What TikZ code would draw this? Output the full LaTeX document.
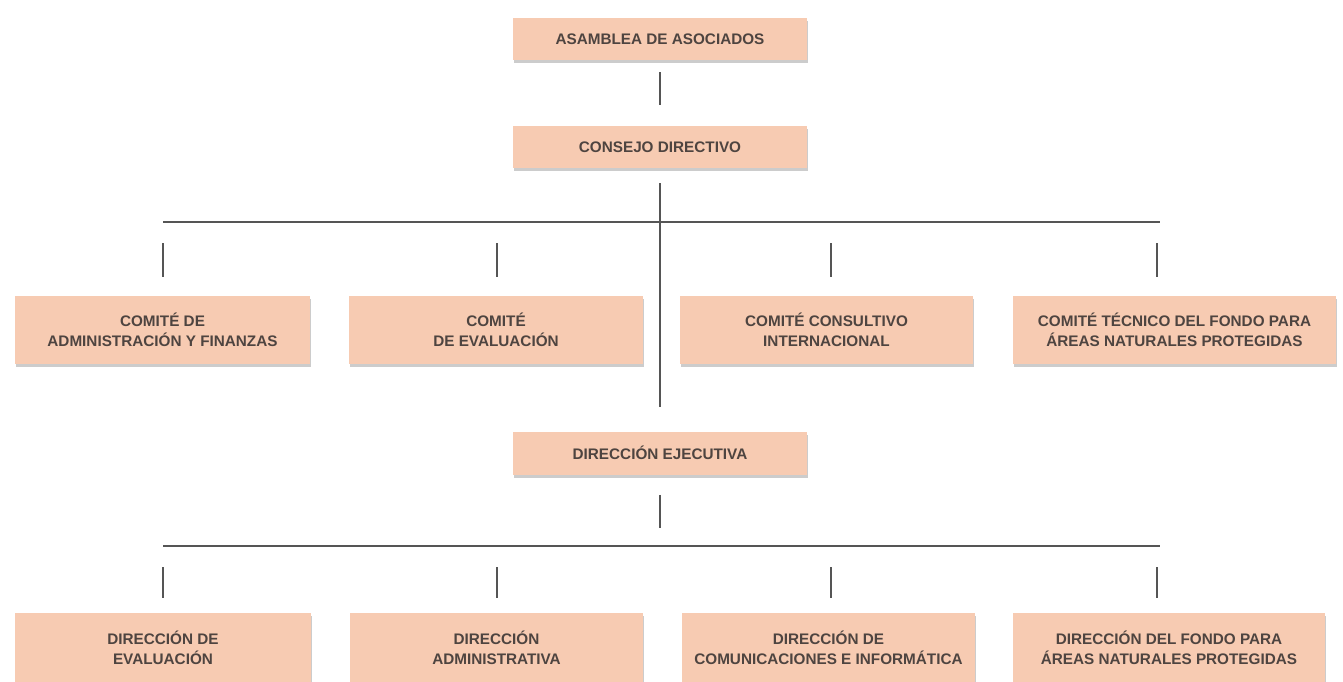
\documentclass[tikz,border=0pt]{standalone}
\usepackage{fontspec}
\setmainfont{Liberation Sans}
\usetikzlibrary{calc,shadows}

\definecolor{peach}{RGB}{247,203,178}
\definecolor{inkgray}{RGB}{78,68,64}
\definecolor{linegray}{RGB}{85,85,85}

\tikzset{
  unitbox/.style={rectangle, fill=peach, inner sep=0pt, align=center, text=inkgray,
    font=\bfseries\fontsize{8.7}{11.4}\selectfont,
    drop shadow={shadow xshift=0.8pt, shadow yshift=-1.8pt, opacity=0.4}},
  link/.style={draw=linegray, line width=0.8pt}
}

\begin{document}
\begin{tikzpicture}[x=0.02cm, y=-0.02cm]
  \clip (0, 0) rectangle (1343, 681);
  \fill[white] (0, 0) rectangle (1343, 681);

  % top of the chart
  \node[unitbox, minimum width=5.88cm, minimum height=0.84cm] (asamblea) at (660, 39) {ASAMBLEA DE ASOCIADOS};
  \node[unitbox, minimum width=5.88cm, minimum height=0.84cm] (consejo) at (660, 147) {CONSEJO DIRECTIVO};
  \node[unitbox, minimum width=5.88cm, minimum height=0.86cm] (ejecutiva) at (660, 453) {DIRECCIÓN EJECUTIVA};

  % comites
  \node[unitbox, minimum width=5.9cm, minimum height=1.36cm] (cadmin) at (162.5, 330) {COMITÉ DE\\ADMINISTRACIÓN Y FINANZAS};
  \node[unitbox, minimum width=5.88cm, minimum height=1.36cm] (ceval) at (496, 330) {COMITÉ\\DE EVALUACIÓN};
  \node[unitbox, minimum width=5.86cm, minimum height=1.36cm] (cconsult) at (826.5, 330) {COMITÉ CONSULTIVO\\INTERNACIONAL};
  \node[unitbox, minimum width=6.46cm, minimum height=1.36cm] (ctecnico) at (1174.5, 330) {COMITÉ TÉCNICO DEL FONDO PARA\\ÁREAS NATURALES PROTEGIDAS};

  % direcciones
  \node[unitbox, minimum width=5.92cm, minimum height=1.4cm] (deval) at (163, 648) {DIRECCIÓN DE\\EVALUACIÓN};
  \node[unitbox, minimum width=5.86cm, minimum height=1.4cm] (dadmin) at (496.5, 648) {DIRECCIÓN\\ADMINISTRATIVA};
  \node[unitbox, minimum width=5.86cm, minimum height=1.4cm] (dcom) at (828.5, 648) {DIRECCIÓN DE\\COMUNICACIONES E INFORMÁTICA};
  \node[unitbox, minimum width=6.24cm, minimum height=1.4cm] (dfondo) at (1169, 648) {DIRECCIÓN DEL FONDO PARA\\ÁREAS NATURALES PROTEGIDAS};

  % bars
  \coordinate (barA) at (163, 222);
  \coordinate (barB) at (1160, 222);
  \coordinate (barC) at (163, 546);
  \coordinate (barD) at (1160, 546);
  \draw[link] (barA) -- (barB);
  \draw[link] (barC) -- (barD);

  % tick points on the bars
  \foreach \i/\x in {1/163, 2/497, 3/831, 4/1157} {
    \coordinate (ta\i) at (\x, 222);
    \coordinate (tb\i) at (\x, 546);
  }

  % vertical lines
  \draw[link, shorten <=0.24cm, shorten >=0.42cm] (asamblea.south) -- (consejo.north);
  \draw[link, shorten <=0.3cm, shorten >=0.48cm] (consejo.south) -- (ejecutiva.north);
  \draw[link, shorten <=0.4cm, shorten >=0.36cm] (ejecutiva.south) -- (ejecutiva.south |- barC);

  \foreach \i/\n in {1/cadmin, 2/ceval, 3/cconsult, 4/ctecnico}
    \draw[link, shorten <=0.42cm, shorten >=0.38cm] (ta\i) -- (ta\i |- \n.north);
  \foreach \i/\n in {1/deval, 2/dadmin, 3/dcom, 4/dfondo}
    \draw[link, shorten <=0.42cm, shorten >=0.3cm] (tb\i) -- (tb\i |- \n.north);
\end{tikzpicture}
\end{document}
